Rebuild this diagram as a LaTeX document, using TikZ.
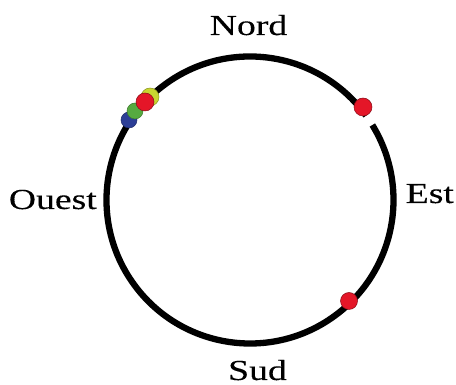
\documentclass[tikz,border=0pt]{standalone}
\usepackage{fontspec}
\setmainfont{Liberation Serif}[FakeBold=0.2]
\definecolor{dotred}{RGB}{228,22,40}
\definecolor{dotgreen}{RGB}{86,170,64}
\definecolor{dotblue}{RGB}{44,62,150}
\definecolor{dotyellow}{RGB}{200,214,48}
\tikzset{
  ring/.style={line width=6.3pt, black},
  lbl/.style={inner sep=0pt, font=\fontsize{29}{32}\selectfont},
  dot/.style={line width=0.5pt}
}
\newcommand{\wide}[1]{\scalebox{1.3}[1]{#1}}
\begin{document}
\begin{tikzpicture}[x=1pt,y=1pt]
\useasboundingbox (0,0) rectangle (456,385);
\coordinate (c) at (250,185);
\draw[ring] ([shift={(36:143.5)}]c) arc[start angle=36, end angle=391.5, radius=143.5];
\node[lbl, anchor=base] (nord) at (248.5,350) {\wide{Nord}};
\node[lbl, anchor=base] (sud) at (257.5,5) {\wide{Sud}};
\node[lbl, anchor=base west] (est) at (405.5,182) {\wide{Est}};
\node[lbl, anchor=base east] (ouest) at (97,176) {\wide{Ouest}};
\fill[dotblue, draw=dotblue!70!black, dot] (129,265) circle (8);
\fill[dotgreen, draw=dotgreen!70!black, dot] (135,274) circle (8);
\fill[dotyellow, draw=dotyellow!70!black, dot] (150,288) circle (9);
\fill[dotred, draw=dotred!60!black, dot] (145,283) circle (9);
\fill[dotred, draw=dotred!60!black, dot] (363,278) circle (9);
\fill[dotred, draw=dotred!60!black, dot] (349,84) circle (8.5);
\end{tikzpicture}
\end{document}
